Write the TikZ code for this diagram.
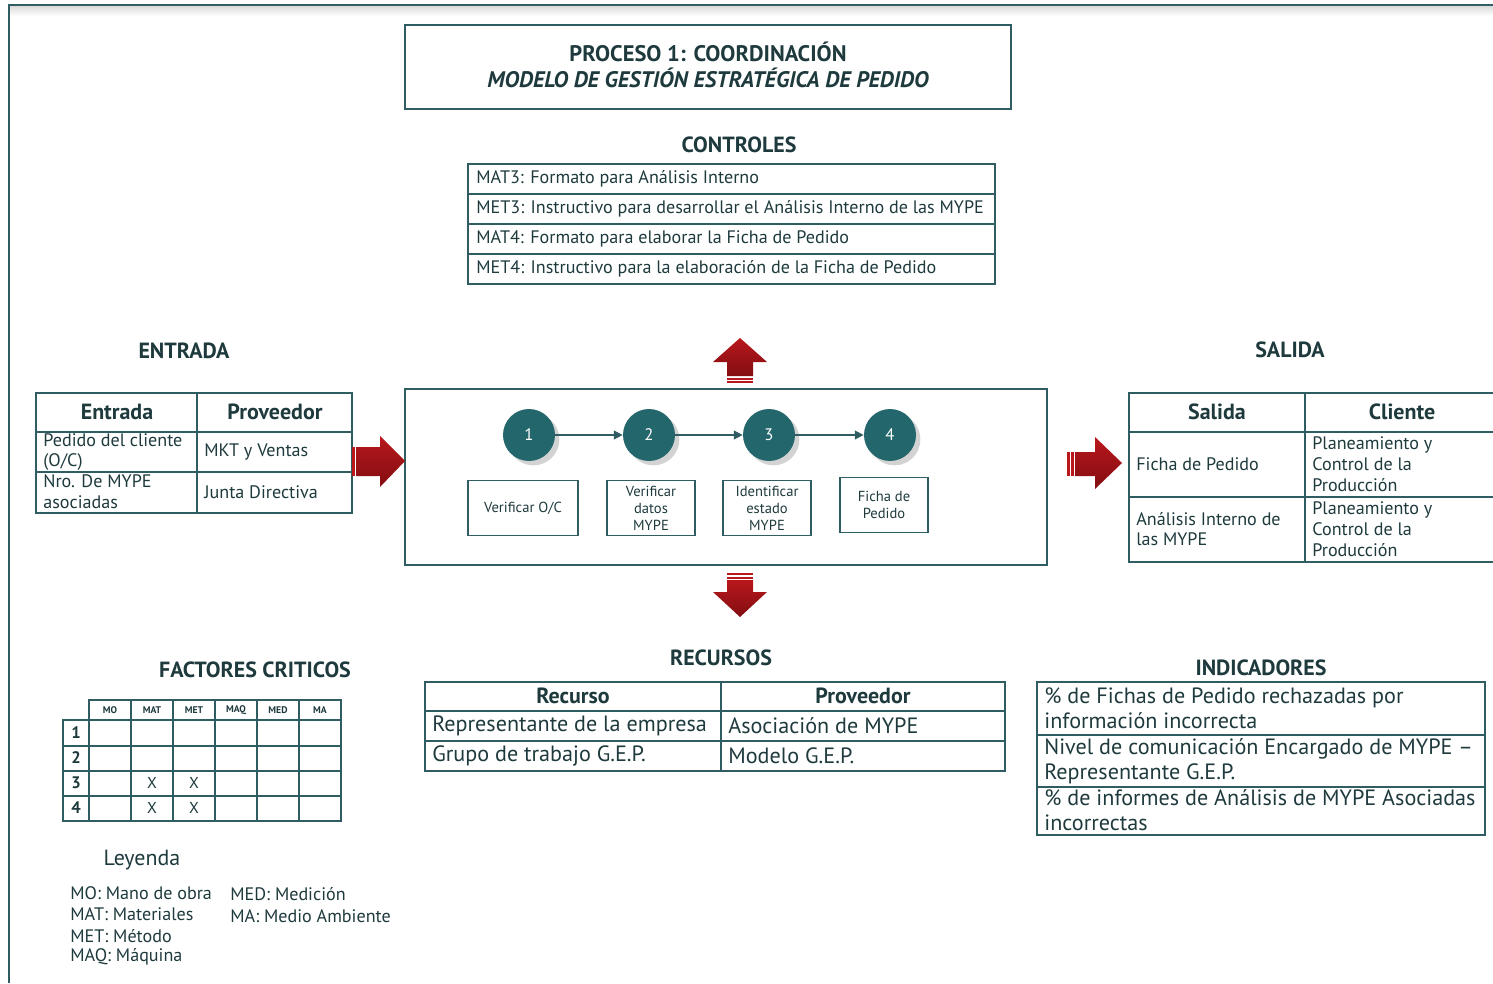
\documentclass[tikz,border=0pt]{standalone}
\usepackage{fontspec}
\setmainfont{PT Sans}
\newfontfamily\headfont{PT Sans}
\usetikzlibrary{arrows.meta,shadows}

\definecolor{ink}{HTML}{1E3A3D}
\definecolor{rulecol}{HTML}{2F5D61}
\definecolor{stepfill}{HTML}{23666B}
\definecolor{arrowred}{HTML}{B8171C}
\definecolor{arrowdark}{HTML}{7C0D10}

\tikzset{
  tbl/.style={draw=rulecol, line width=0.9pt},
  hdr/.style={font=\headfont\bfseries\fontsize{12.5}{14}\selectfont, text=ink, inner sep=0pt},
  cell/.style={font=\fontsize{10.3}{11.8}\selectfont, text=ink, anchor=west, align=left, inner sep=0pt},
  bigcell/.style={cell, font=\fontsize{12.6}{14.2}\selectfont},
  stepnum/.style={circle, fill=stepfill, minimum size=1.04cm, inner sep=0pt,
    text=white, font=\fontsize{9.5}{10}\selectfont, drop shadow={opacity=0.35}},
  taskbox/.style={draw=rulecol, line width=0.7pt, text=ink, align=center, inner sep=0pt,
    font=\fontsize{8.3}{9.6}\selectfont, minimum width=1.76cm, minimum height=1.1cm},
  flow/.style={draw=rulecol, line width=0.8pt, -{Triangle[length=5pt,width=5pt]}},
  blockarrow/.style={top color=arrowred, bottom color=arrowdark!90!arrowred},
}

\begin{document}
\begin{tikzpicture}[x=0.02cm,y=-0.02cm]
\useasboundingbox (0,0) rectangle (1493,983);

% page frame
\shade[top color=black!14, bottom color=white] (10,6) rectangle (1493,16);
\draw[rulecol, line width=1.1pt] (9,983) -- (9,5) -- (1493,5);

% title
\draw[tbl] (405,25) rectangle (1011,109);
\node[hdr, align=center, font=\headfont\bfseries\fontsize{12.8}{14.8}\selectfont] (title) at (708,65)
  {PROCESO 1: COORDINACIÓN\\\itshape MODELO DE GESTIÓN ESTRATÉGICA DE PEDIDO};

% section labels
\node[hdr] (lblctl) at (739,145) {CONTROLES};
\node[hdr] (lblin) at (184,351) {ENTRADA};
\node[hdr] (lblout) at (1290,350) {SALIDA};
\node[hdr] (lblres) at (721,658) {RECURSOS};
\node[hdr] (lblind) at (1261,668) {INDICADORES};
\node[hdr] (lblfac) at (255,670) {FACTORES CRITICOS};

% controles
\draw[tbl] (468,164) rectangle (995,284);
\foreach \y in {194,224,254} \draw[tbl] (468,\y) -- (995,\y);
\foreach \t [count=\i] in {MAT3: Formato para Análisis Interno,
    MET3: Instructivo para desarrollar el Análisis Interno de las MYPE,
    MAT4: Formato para elaborar la Ficha de Pedido,
    MET4: Instructivo para la elaboración de la Ficha de Pedido}
  \node[cell] (ctl\i) at (476,149+30*\i) {\t};

% entrada
\draw[tbl] (36,393) rectangle (352,513);
\draw[tbl] (197,393) -- (197,513);
\foreach \y in {432,472} \draw[tbl] (36,\y) -- (352,\y);
\node[hdr] (inh1) at (117,412) {Entrada};
\node[hdr] (inh2) at (275,412) {Proveedor};
\node[cell] (in1) at (43,452) {Pedido del cliente\\(O/C)};
\node[cell] (inp1) at (204,452) {MKT y Ventas};
\node[cell] (in2) at (43,492) {Nro. De MYPE\\asociadas};
\node[cell] (inp2) at (204,492) {Junta Directiva};

% salida
\draw[tbl] (1493,393) -- (1129,393) -- (1129,562) -- (1493,562);
\draw[tbl] (1305,393) -- (1305,562);
\foreach \y in {432,497} \draw[tbl] (1129,\y) -- (1493,\y);
\node[hdr] (outh1) at (1217,412) {Salida};
\node[hdr] (outh2) at (1402,412) {Cliente};
\node[cell] (out1) at (1136,464) {Ficha de Pedido};
\node[cell] (cli1) at (1312,464) {Planeamiento y\\Control de la\\Producción};
\node[cell] (out2) at (1136,529) {Análisis Interno de\\las MYPE};
\node[cell] (cli2) at (1312,529) {Planeamiento y\\Control de la\\Producción};

% proceso
\draw[tbl] (405,389) rectangle (1047,565);
\foreach \i/\x in {1/529,2/649,3/769,4/890}
  \node[stepnum] (c\i) at (\x,435) {\i};
\draw[flow] (c1) -- (c2);
\draw[flow] (c2) -- (c3);
\draw[flow] (c3) -- (c4);
\node[taskbox, minimum width=2.2cm] (t1) at (523,508) {Verificar O/C};
\node[taskbox] (t2) at (651,508) {Verificar\\datos\\MYPE};
\node[taskbox] (t3) at (767,508) {Identificar\\estado\\MYPE};
\node[taskbox] (t4) at (884,505) {Ficha de\\Pedido};

% block arrows
\shade[blockarrow] (356,447) -- (380,447) -- (380,436) -- (405,461) -- (380,487) -- (380,476) -- (356,476) -- cycle;
\fill[arrowred] (352,447) rectangle (354.5,476);
\shade[blockarrow] (1075,452) -- (1095,452) -- (1095,437) -- (1122,463) -- (1095,489) -- (1095,476) -- (1075,476) -- cycle;
\fill[arrowred] (1067,452) rectangle (1069.5,476);
\fill[arrowred] (1071,452) rectangle (1073.5,476);
\shade[blockarrow] (727,376) -- (727,362) -- (713,362) -- (740,338) -- (767,362) -- (753,362) -- (753,376) -- cycle;
\fill[arrowred] (727,377.5) rectangle (753,379.5);
\fill[arrowred] (727,381) rectangle (753,383);
\fill[arrowred] (727,573) rectangle (753,575);
\fill[arrowred] (727,576.5) rectangle (753,578.5);
\shade[blockarrow] (727,580) -- (753,580) -- (753,592) -- (767,592) -- (740,617) -- (713,592) -- (727,592) -- cycle;

% recursos
\draw[tbl] (425,682) rectangle (1005,771);
\draw[tbl] (721,682) -- (721,771);
\foreach \y in {711,741} \draw[tbl] (425,\y) -- (1005,\y);
\node[hdr] (resh1) at (573,696) {Recurso};
\node[hdr] (resh2) at (863,696) {Proveedor};
\node[bigcell] (res1) at (432,726) {Representante de la empresa};
\node[bigcell] (resp1) at (728,726) {Asociación de MYPE};
\node[bigcell] (res2) at (432,756) {Grupo de trabajo G.E.P.};
\node[bigcell] (resp2) at (728,756) {Modelo G.E.P.};

% indicadores
\draw[tbl] (1037,682) rectangle (1485,835);
\draw[tbl] (1037,735) -- (1485,735);
\draw[tbl, line width=1.5pt] (1037,787) -- (1485,787);
\node[bigcell] (ind1) at (1044,708) {\% de Fichas de Pedido rechazadas por\\información incorrecta};
\node[bigcell] (ind2) at (1044,761) {Nivel de comunicación Encargado de MYPE --\\Representante G.E.P.};
\node[bigcell] (ind3) at (1044,810) {\% de informes de Análisis de MYPE Asociadas\\incorrectas};

% factores criticos
\draw[tbl] (89,700) rectangle (341,821);
\draw[tbl] (63,720) rectangle (341,821);
\foreach \x in {131,173,215,257,299} \draw[tbl] (\x,700) -- (\x,821);
\foreach \y in {771,796} \draw[tbl] (63,\y) -- (341,\y);
\draw[tbl, line width=1.6pt] (63,746) -- (341,746);
\foreach \t [count=\i] in {MO,MAT,MET,MAQ,MED,MA}
  \node[hdr, font=\headfont\bfseries\fontsize{5.5}{6}\selectfont] (fh\i) at (68+42*\i,710) {\t};
\foreach \i in {1,...,4}
  \node[hdr, font=\bfseries\fontsize{9.5}{10}\selectfont] (fr\i) at (76,708+25*\i) {\i};
\foreach \x/\y [count=\i] in {152/783,194/783,152/808,194/808}
  \node[cell, anchor=center, font=\fontsize{9}{9}\selectfont] (fx\i) at (\x,\y) {X};

% leyenda
\node[cell, anchor=center, font=\fontsize{12.5}{13}\selectfont] (ley) at (142,860) {Leyenda};
\foreach \t [count=\i] in {MO: Mano de obra,MAT: Materiales,MET: Método,MAQ: Máquina}
  \node[cell] (leg\i) at (70,872+21.3*\i) {\t};
\node[cell] (leg5) at (230,894) {MED: Medición};
\node[cell] (leg6) at (230,916) {MA: Medio Ambiente};
\end{tikzpicture}
\end{document}
